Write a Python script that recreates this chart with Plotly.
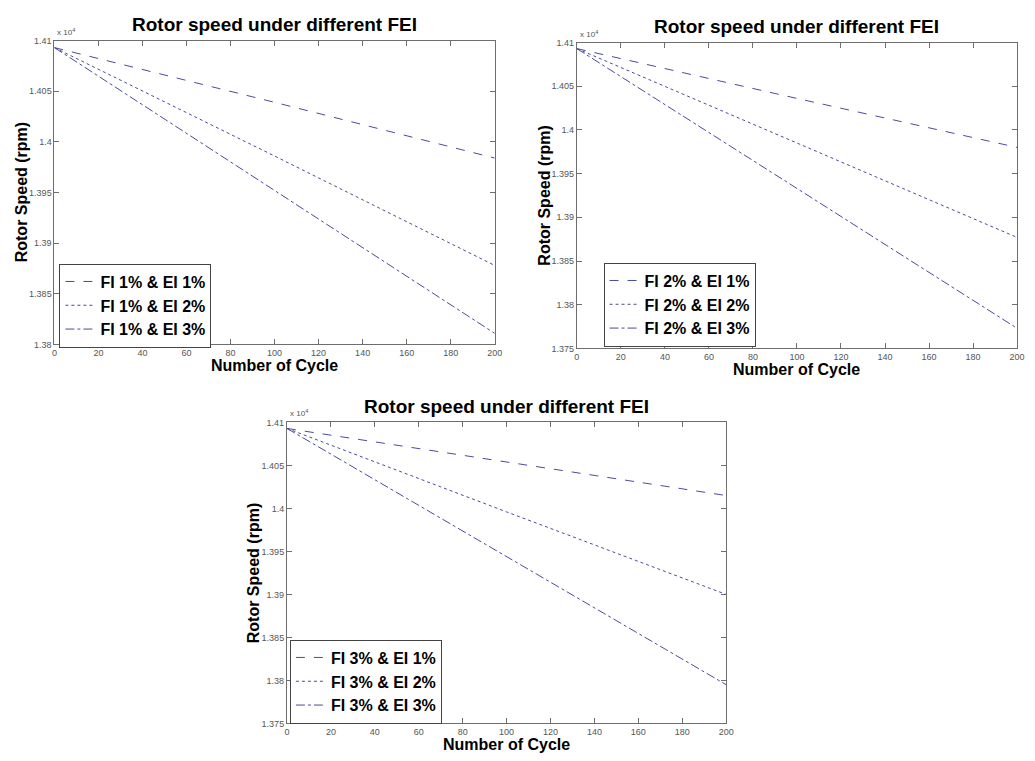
import plotly.graph_objects as go

W, H = 1035, 761

# Number of cycles
cycles = [0, 100, 200]

# Rotor speed (rpm) for each fault-injection combination
fi1_ei1 = [14093, 14039, 13984]
fi1_ei2 = [14093, 13986, 13878]
fi1_ei3 = [14093, 13952, 13811]

fi2_ei1 = [14093, 14036, 13980]
fi2_ei2 = [14093, 13985, 13877]
fi2_ei3 = [14093, 13933, 13773]

fi3_ei1 = [14093, 14054, 14015]
fi3_ei2 = [14093, 13996, 13900]
fi3_ei3 = [14093, 13944, 13795]

panels = [
    {"names": ["FI 1% & EI 1%", "FI 1% & EI 2%", "FI 1% & EI 3%"],
     "series": [fi1_ei1, fi1_ei2, fi1_ei3],
     "yticks": [13800, 13850, 13900, 13950, 14000, 14050, 14100],
     "yrange": [13800, 14100],
     "box": (52, 36, 497, 344), "legend": (57, 262)},
    {"names": ["FI 2% & EI 1%", "FI 2% & EI 2%", "FI 2% & EI 3%"],
     "series": [fi2_ei1, fi2_ei2, fi2_ei3],
     "yticks": [13750, 13800, 13850, 13900, 13950, 14000, 14050, 14100],
     "yrange": [13750, 14100],
     "box": (580, 38, 1025, 348), "legend": (607, 261)},
    {"names": ["FI 3% & EI 1%", "FI 3% & EI 2%", "FI 3% & EI 3%"],
     "series": [fi3_ei1, fi3_ei2, fi3_ei3],
     "yticks": [13750, 13800, 13850, 13900, 13950, 14000, 14050, 14100],
     "yrange": [13750, 14100],
     "box": (287, 423, 731, 728), "legend": (290, 643)},
]

dashes = ["dash", "dot", "dashdot"]
line_color = "#4a4a9e"
axis_color = "#6e6e6e"
tick_font = dict(family="Liberation Sans", size=9, color="#555555")


def fmt(v):
    return f"{v / 1e4:.3f}".rstrip("0").rstrip(".")


def px(x):
    return x / W


def py(y):
    return 1 - y / H


fig = go.Figure()
annotations = []
layout_axes = {}

for i, p in enumerate(panels):
    k = "" if i == 0 else str(i + 1)
    xa, ya = f"x{k}", f"y{k}"
    leg = "legend" if i == 0 else f"legend{i + 1}"
    for name, vals, d in zip(p["names"], p["series"], dashes):
        fig.add_trace(go.Scatter(
            x=cycles, y=vals, mode="lines", name=name,
            line=dict(color=line_color, width=1, dash=d),
            xaxis=xa, yaxis=ya, legend=leg, showlegend=True))

    x0, y0, x1, y1 = p["box"]
    layout_axes[f"xaxis{k}"] = dict(
        domain=[px(x0), px(x1)], anchor=ya, range=[0, 200],
        tickvals=list(range(0, 201, 20)), ticks="inside", ticklen=5,
        tickcolor=axis_color, showline=True, linecolor=axis_color,
        linewidth=1, mirror="ticks", showgrid=False, zeroline=False,
        tickfont=tick_font)
    layout_axes[f"yaxis{k}"] = dict(
        domain=[py(y1), py(y0)], anchor=xa, range=p["yrange"],
        tickvals=p["yticks"], ticktext=[fmt(v) for v in p["yticks"]],
        ticks="inside", ticklen=5, tickcolor=axis_color, showline=True,
        linecolor=axis_color, linewidth=1, mirror="ticks", showgrid=False,
        zeroline=False, tickfont=tick_font)

    lx, ly = p["legend"]
    layout_axes[leg] = dict(
        x=px(lx), y=py(ly), xanchor="left", yanchor="top",
        bgcolor="white", bordercolor="#444444", borderwidth=1,
        font=dict(family="Liberation Sans", size=16, color="black",
                  weight="bold"),
        tracegroupgap=0, itemwidth=30)

    cx = (x0 + x1) / 2
    cy = (y0 + y1) / 2
    annotations += [
        dict(text="<b>Rotor speed under different FEI</b>", x=px(cx),
             y=py(y0 - 16), xref="paper", yref="paper", showarrow=False,
             xanchor="center", yanchor="middle",
             font=dict(family="Liberation Sans", size=19, color="black")),
        dict(text="<b>Number of Cycle</b>", x=px(cx), y=py(y1 + 21),
             xref="paper", yref="paper", showarrow=False,
             xanchor="center", yanchor="middle",
             font=dict(family="Liberation Sans", size=16, color="black")),
        dict(text="<b>Rotor Speed (rpm)</b>", x=px(x0 - 33), y=py(cy),
             xref="paper", yref="paper", showarrow=False, textangle=-90,
             xanchor="center", yanchor="middle",
             font=dict(family="Liberation Sans", size=16, color="black")),
        dict(text="x 10<sup>4</sup>", x=px(x0 + 1), y=py(y0 - 2),
             xref="paper", yref="paper", showarrow=False, xanchor="left",
             yanchor="bottom",
             font=dict(family="Liberation Sans", size=8, color="#555555")),
    ]

fig.update_layout(
    width=W, height=H, margin=dict(l=0, r=0, t=0, b=0),
    paper_bgcolor="white", plot_bgcolor="white",
    annotations=annotations, **layout_axes)

fig.write_html("out.html")
